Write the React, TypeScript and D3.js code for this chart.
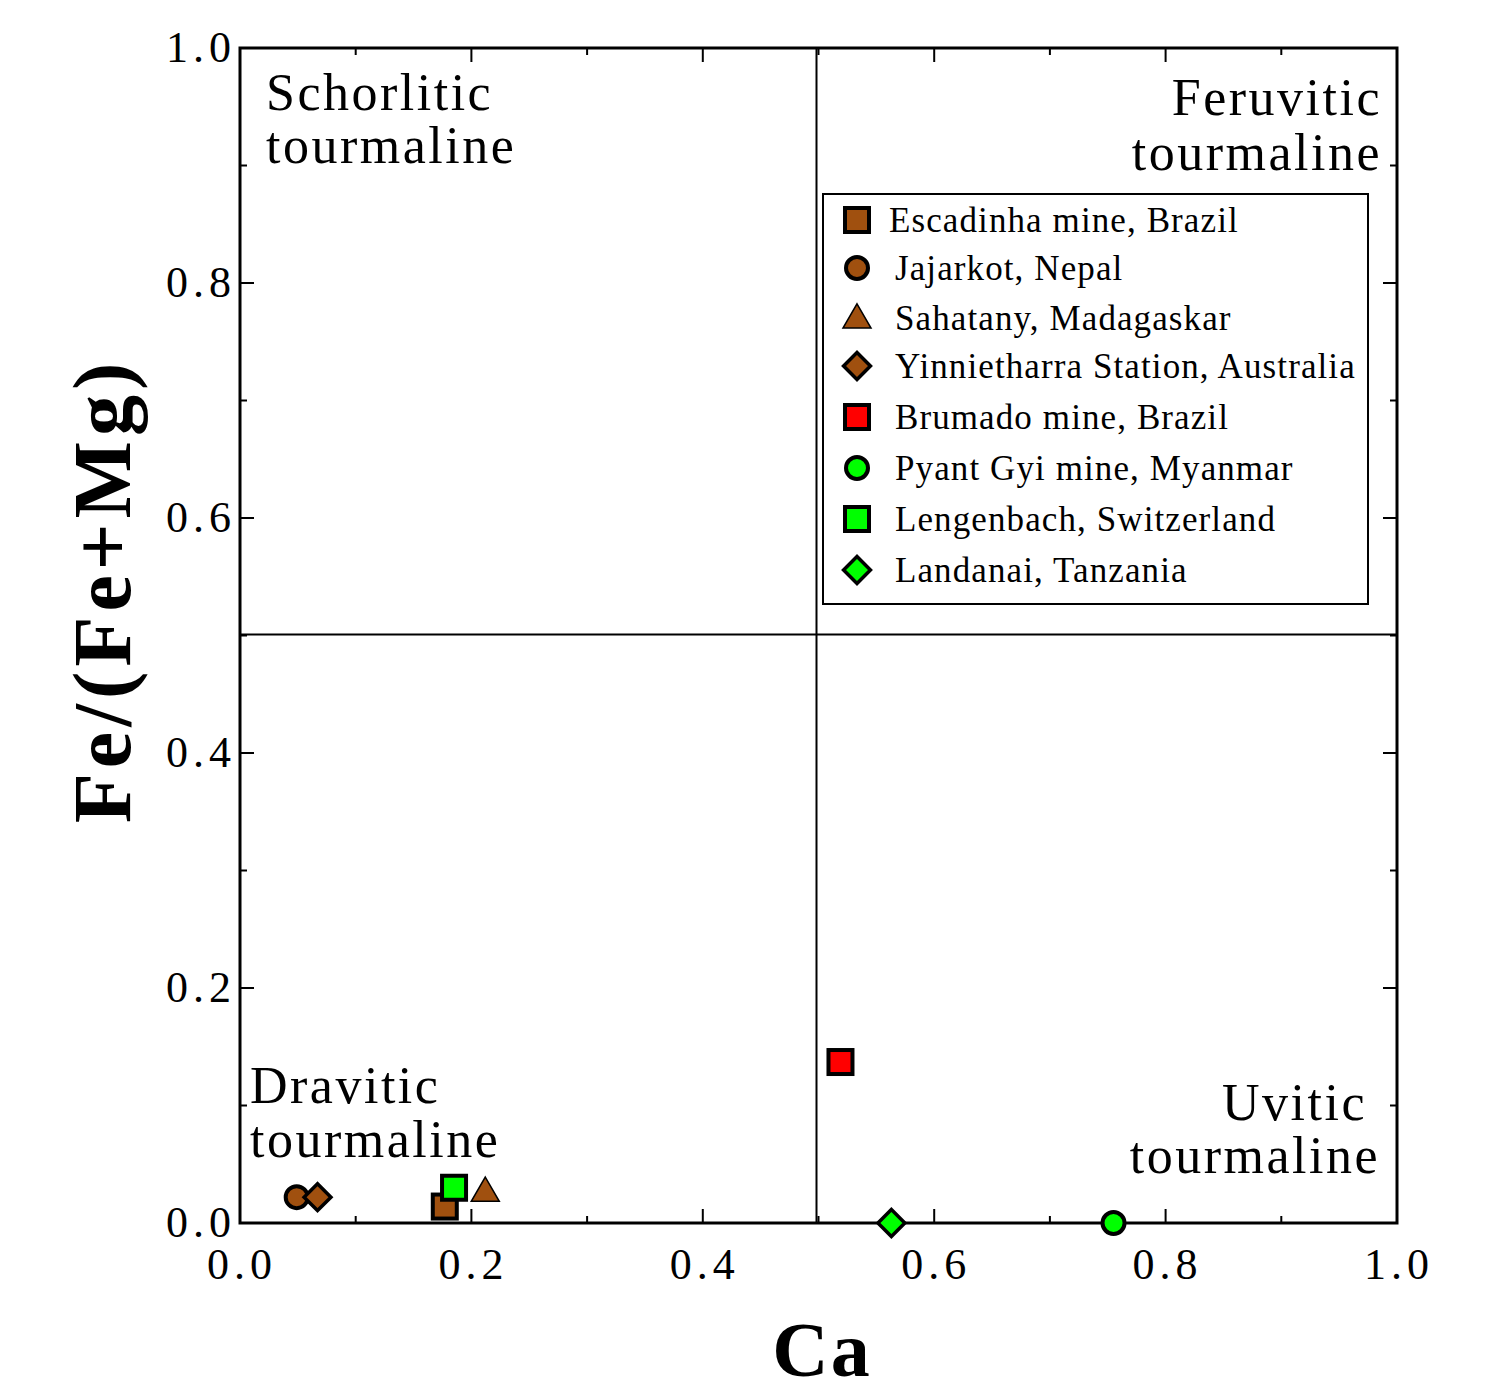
import React from "react";
import * as d3 from "d3";

const BROWN = "#A0500F";
const GREEN = "#00FF00";
const RED = "#FF0000";

const seriesNames = [
  "Escadinha mine, Brazil",
  "Jajarkot, Nepal",
  "Sahatany, Madagaskar",
  "Yinnietharra Station, Australia",
  "Brumado mine, Brazil",
  "Pyant Gyi mine, Myanmar",
  "Lengenbach, Switzerland",
  "Landanai, Tanzania",
];
const seriesShapes = ["square", "circle", "triangle", "diamond", "square", "circle", "square", "diamond"];
const seriesColors = [BROWN, BROWN, BROWN, BROWN, RED, GREEN, GREEN, GREEN];
const caValues = [0.177, 0.049, 0.212, 0.067, 0.519, 0.755, 0.185, 0.563];
const feValues = [0.014, 0.022, 0.027, 0.022, 0.137, 0.0, 0.03, 0.0];

const tickLabels = ["0.0", "0.2", "0.4", "0.6", "0.8", "1.0"];
const majorTicks = [0, 0.2, 0.4, 0.6, 0.8, 1.0];
const minorTicks = [0.1, 0.3, 0.5, 0.7, 0.9];

const FONT = "'Liberation Serif', 'DejaVu Serif', serif";

const left = 240;
const right = 1397;
const top = 48;
const bottom = 1223;

function Marker({ shape, color, x, y }) {
  if (shape === "circle") {
    return <circle cx={x} cy={y} r={11} fill={color} stroke="#000" strokeWidth={4} />;
  }
  if (shape === "square") {
    return <rect x={x - 12} y={y - 12} width={24} height={24} fill={color} stroke="#000" strokeWidth={4} />;
  }
  if (shape === "triangle") {
    const p = d3.symbol().type(d3.symbolTriangle).size(340)();
    return <path d={p} transform={`translate(${x},${y + 2})`} fill={color} stroke="#000" strokeWidth={1.5} />;
  }
  const d = d3.symbol().type(d3.symbolDiamond2).size(460)();
  return <path d={d} transform={`translate(${x},${y})`} fill={color} stroke="#000" strokeWidth={3.5} />;
}

export default function App() {
  const x = d3.scaleLinear().domain([0, 1]).range([left, right]);
  const y = d3.scaleLinear().domain([0, 1]).range([bottom, top]);

  const legendX = 823;
  const legendY = 194;
  const legendRowY = [220, 268, 318, 366, 417, 468, 519, 570];

  return (
    <svg width={1488} height={1392} style={{ display: "block", marginTop: -8, marginLeft: -8 }} fontFamily={FONT}>
      <rect width={1488} height={1392} fill="#fff" />

      {/* quadrant dividers */}
      <line x1={x(0.5) - 2} x2={x(0.5) - 2} y1={top} y2={bottom} stroke="#000" strokeWidth={2} />
      <line x1={left} x2={right} y1={y(0.5) - 1} y2={y(0.5) - 1} stroke="#000" strokeWidth={2} />

      {/* ticks on all four sides, pointing inward */}
      {majorTicks.map((t) => (
        <g key={"M" + t} stroke="#000" strokeWidth={2}>
          <line x1={x(t)} x2={x(t)} y1={bottom} y2={bottom - 14} />
          <line x1={x(t)} x2={x(t)} y1={top} y2={top + 14} />
          <line x1={left} x2={left + 14} y1={y(t)} y2={y(t)} />
          <line x1={right} x2={right - 14} y1={y(t)} y2={y(t)} />
        </g>
      ))}
      {minorTicks.map((t) => (
        <g key={"m" + t} stroke="#000" strokeWidth={2}>
          <line x1={x(t)} x2={x(t)} y1={bottom} y2={bottom - 7} />
          <line x1={x(t)} x2={x(t)} y1={top} y2={top + 7} />
          <line x1={left} x2={left + 7} y1={y(t)} y2={y(t)} />
          <line x1={right} x2={right - 7} y1={y(t)} y2={y(t)} />
        </g>
      ))}

      <rect x={left} y={top} width={right - left} height={bottom - top} fill="none" stroke="#000" strokeWidth={3} />

      {/* tick labels */}
      {majorTicks.map((t, i) => (
        <text key={"xl" + t} x={x(t) + 2} y={1279} textAnchor="middle" fontSize={44} letterSpacing={5}>
          {tickLabels[i]}
        </text>
      ))}
      {majorTicks.map((t, i) => (
        <text key={"yl" + t} x={236} y={y(t) + 14} textAnchor="end" fontSize={44} letterSpacing={5}>
          {tickLabels[i]}
        </text>
      ))}

      {/* axis titles */}
      <text x={822} y={1376} textAnchor="middle" fontSize={78} fontWeight="bold" letterSpacing={2}>Ca</text>
      <text
        transform={`translate(130,${y(0.5) - 45}) rotate(-90)`}
        textAnchor="middle"
        fontSize={82}
        fontWeight="bold"
        letterSpacing={5}
      >
        Fe/(Fe+Mg)
      </text>

      {/* region labels */}
      <g fontSize={52} letterSpacing={2.5}>
        <text x={266} y={110}>Schorlitic</text>
        <text x={266} y={163}>tourmaline</text>
        <text x={1382} y={115} textAnchor="end">Feruvitic</text>
        <text x={1382} y={170} textAnchor="end">tourmaline</text>
        <text x={250} y={1103}>Dravitic</text>
        <text x={250} y={1157}>tourmaline</text>
        <text x={1367} y={1120} textAnchor="end">Uvitic</text>
        <text x={1380} y={1173} textAnchor="end">tourmaline</text>
      </g>

      {/* data points */}
      {seriesNames.map((name, i) => (
        <Marker key={name} shape={seriesShapes[i]} color={seriesColors[i]} x={x(caValues[i])} y={y(feValues[i])} />
      ))}

      {/* legend */}
      <rect x={legendX} y={legendY} width={545} height={410} fill="#fff" stroke="#000" strokeWidth={2} />
      {seriesNames.map((name, i) => (
        <g key={"lg" + name}>
          <Marker shape={seriesShapes[i]} color={seriesColors[i]} x={857} y={legendRowY[i]} />
          <text x={i === 0 ? 889 : 895} y={legendRowY[i] + 12} fontSize={35} letterSpacing={1.1}>
            {name}
          </text>
        </g>
      ))}
    </svg>
  );
}
